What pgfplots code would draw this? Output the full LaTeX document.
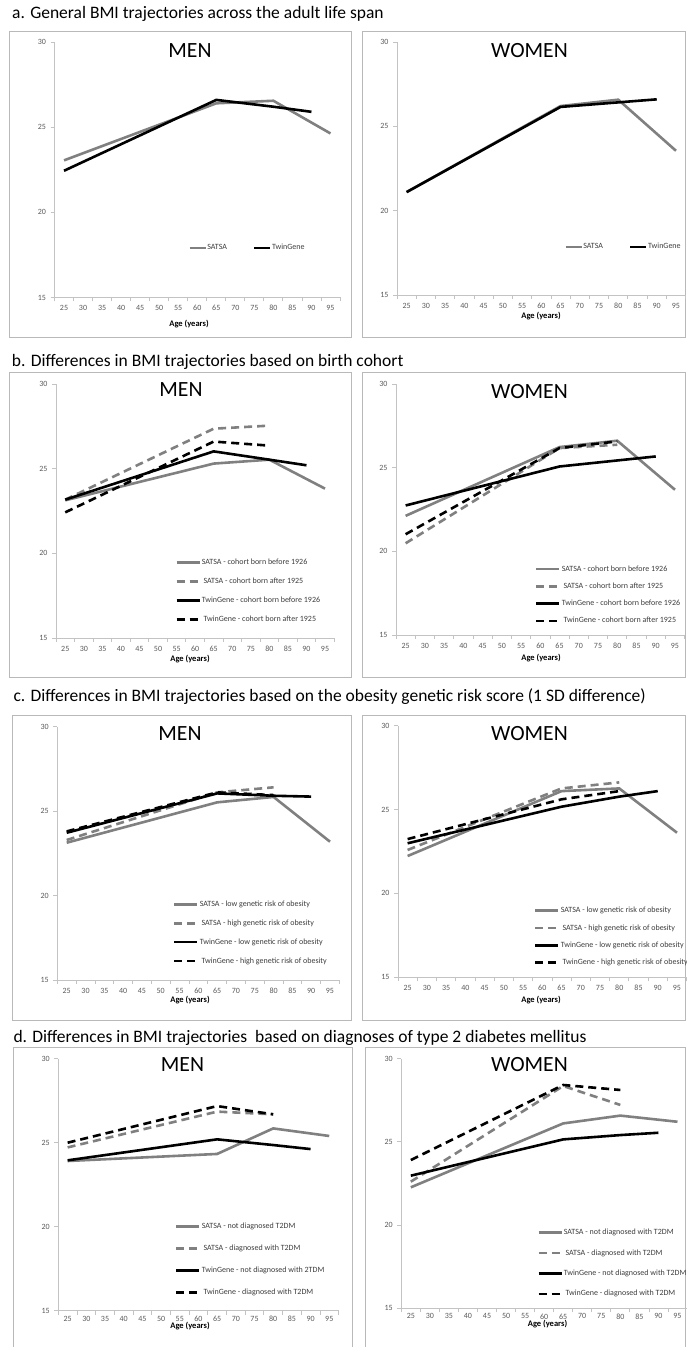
\documentclass[border=0pt]{standalone}
\usepackage{fontspec}
\setmainfont{Carlito}
\usepackage{pgfplots}
\pgfplotsset{compat=1.18}
\definecolor{sgray}{RGB}{128,128,128}
\definecolor{framegray}{RGB}{185,185,185}
\definecolor{axgray}{RGB}{195,195,195}
\definecolor{tickgray}{RGB}{90,90,90}
\definecolor{leggray}{RGB}{60,60,60}

\pgfplotsset{
  bmi/.style={scale only axis, anchor=south west,
    xmin=22.5, xmax=97.5, ymin=15, ymax=30,
    axis lines*=left, axis line style={draw=axgray, line width=0.8pt, -},
    xtick={25,30,...,95}, ytick={15,20,25,30},
    minor xtick={22.5,27.5,...,97.5}, minor ytick={15,20,25,30},
    tick align=outside, major tick length=0pt, minor tick length=4pt,
    tick style={draw=axgray, line width=0.8pt},
    ticklabel style={font=\fontsize{8}{9}\selectfont, text=tickgray},
    /pgf/number format/assume math mode=true,
    yticklabel style={xshift=-5pt},
    legend cell align=left},
  highrow/.style={xticklabel style={yshift=-4.5pt}},
  lowrow/.style={xticklabel style={yshift=-1.8pt}},
  sa/.style={sgray, line width=2.6pt},
  sad/.style={sgray, line width=2.6pt, dash pattern=on 8pt off 5pt},
  tg/.style={black, line width=2.6pt},
  tgd/.style={black, line width=2.6pt, dash pattern=on 8pt off 5pt},
  leg4/.style n args={3}{legend style={at={(#1,#2)}, anchor=west, draw=none, fill=none, inner sep=0pt,
      font=\fontsize{8}{9}\selectfont,
      nodes={inner sep=0pt, text height=6pt, text depth=2pt, text=leggray},
      row sep=#3, /tikz/every odd column/.append style={column sep=1pt}},
    legend image code/.code={\draw[##1] (0pt,0pt) -- (23pt,0pt);}},
  leg2/.style n args={2}{legend columns=2, legend style={at={(#1,#2)}, anchor=west, draw=none, fill=none, inner sep=0pt,
      font=\fontsize{8}{9}\selectfont,
      nodes={inner sep=0pt, text height=6pt, text depth=2pt, text=leggray},
      /tikz/every odd column/.append style={column sep=0.5pt},
      /tikz/every even column/.append style={column sep=26pt}},
    legend image code/.code={\draw[##1] (0pt,0pt) -- (16pt,0pt);}},
}
\newcommand{\ttl}{\fontsize{17.5}{20}\selectfont}
\newcommand{\sx}{\fontsize{21.7}{24}\selectfont}
\newcommand{\agel}{\fontsize{8.5}{10}\selectfont\bfseries}

\begin{document}
\begin{tikzpicture}
\useasboundingbox (0pt,0pt) rectangle (687pt,1347pt);
% frames
\begin{scope}[draw=framegray, line width=1pt]
\draw (9pt,1009pt) rectangle (351pt,1315pt);
\draw (362pt,1009pt) rectangle (685.5pt,1315pt);
\draw (9pt,669pt) rectangle (351pt,974pt);
\draw (362pt,669pt) rectangle (685.5pt,974pt);
\draw (12.7pt,326.3pt) rectangle (351pt,631pt);
\draw (362.7pt,326.3pt) rectangle (685.5pt,631pt);
\draw (13.3pt,-5pt) -- (13.3pt,299pt) -- (352pt,299pt) -- (352pt,-5pt);
\draw (365.3pt,-5pt) -- (365.3pt,299pt) -- (685.5pt,299pt) -- (685.5pt,-5pt);
\end{scope}
% section titles
\node[anchor=base west, inner sep=0pt] at (12pt,1328pt) {\ttl a. General BMI trajectories across the adult life span};
\node[anchor=base west, inner sep=0pt] at (11.7pt,980pt) {\ttl b. Differences in BMI trajectories based on birth cohort};
\node[anchor=base west, inner sep=0pt] at (13.3pt,645pt) {\ttl c. Differences in BMI trajectories based on the obesity genetic risk score (1 SD difference)};
\node[anchor=base west, inner sep=0pt] at (13.3pt,304pt) {\ttl d. Differences in BMI trajectories\ \ based on diagnoses of type 2 diabetes mellitus};

% ---------- a ----------
\begin{axis}[bmi, highrow, at={(54.5pt,1049.5pt)}, width=285.5pt, height=255.5pt, leg2={0.4676}{0.1937}]
\addplot[sa] coordinates {(25,23.05) (65,26.4) (80,26.55) (95,24.63)};
\addlegendentry{SATSA}
\addplot[tg] coordinates {(25,22.44) (65,26.6) (80,26.2) (90,25.9)};
\addlegendentry{TwinGene}
\end{axis}
\begin{axis}[bmi, highrow, at={(397pt,1052pt)}, width=288.6pt, height=253pt, leg2={0.5787}{0.1897}]
\addplot[sa] coordinates {(25,21.1) (65,26.2) (80,26.58) (95,23.55)};
\addlegendentry{SATSA}
\addplot[tg] coordinates {(25,21.1) (65,26.15) (80,26.42) (90,26.6)};
\addlegendentry{TwinGene}
\end{axis}

% ---------- b ----------
\begin{axis}[bmi, highrow, at={(56pt,709pt)}, width=278.3pt, height=254pt, leg4={0.4276}{0.1858}{11pt}]
\addplot[sa] coordinates {(25,23.13) (65,25.3) (80,25.53) (95,23.82)};
\addlegendentry{SATSA - cohort born before 1926}
\addplot[sad] coordinates {(25,23.17) (65,27.36) (80,27.54)};
\addlegendentry{\ SATSA - cohort born after 1925}
\addplot[tg] coordinates {(25,23.17) (65,26.02) (80,25.53) (90,25.2)};
\addlegendentry{TwinGene - cohort born before 1926}
\addplot[tgd] coordinates {(25,22.42) (65,26.6) (80,26.36)};
\addlegendentry{\ TwinGene - cohort born after 1925}
\end{axis}
\begin{axis}[bmi, highrow, at={(396pt,712pt)}, width=288.6pt, height=251pt, leg4={0.4816}{0.1594}{9.3pt}]
\addplot[sa] coordinates {(25,22.12) (65,26.23) (80,26.61) (95,23.68)};
\addlegendentry{SATSA - cohort born before 1926}
\addplot[sad] coordinates {(25,20.48) (65,26.17) (80,26.37)};
\addlegendentry{\ SATSA - cohort born after 1925}
\addplot[tg] coordinates {(25,22.74) (65,25.07) (80,25.43) (90,25.67)};
\addlegendentry{TwinGene - cohort born before 1926}
\addplot[tgd] coordinates {(25,21.02) (65,26.17) (80,26.57)};
\addlegendentry{\ TwinGene - cohort born after 1925}
\end{axis}

% ---------- c ----------
\begin{axis}[bmi, highrow, at={(57.3pt,367pt)}, width=282.1pt, height=253.3pt, leg4={0.4101}{0.1867}{10.9pt}]
\addplot[sa] coordinates {(25,23.13) (65,25.52) (80,25.84) (95,23.19)};
\addlegendentry{SATSA - low genetic risk of obesity}
\addplot[sad] coordinates {(25,23.29) (65,26.11) (80,26.41)};
\addlegendentry{\ SATSA - high genetic risk of obesity}
\addplot[tg] coordinates {(25,23.72) (65,26.05) (80,25.91) (90,25.86)};
\addlegendentry{TwinGene - low genetic risk of obesity}
\addplot[tgd] coordinates {(25,23.8) (65,26.11) (80,25.95)};
\addlegendentry{\ TwinGene - high genetic risk of obesity}
\end{axis}
\begin{axis}[bmi, highrow, at={(398pt,369.7pt)}, width=288.6pt, height=251.6pt, leg4={0.4712}{0.1614}{9.3pt}]
\addplot[sa] coordinates {(25,22.23) (65,26.1) (80,26.26) (95,23.62)};
\addlegendentry{SATSA - low genetic risk of obesity}
\addplot[sad] coordinates {(25,22.59) (65,26.26) (80,26.62)};
\addlegendentry{\ SATSA - high genetic risk of obesity}
\addplot[tg] coordinates {(25,22.99) (65,25.17) (80,25.77) (90,26.1)};
\addlegendentry{TwinGene - low genetic risk of obesity}
\addplot[tgd] coordinates {(25,23.24) (65,25.61) (80,26.1)};
\addlegendentry{\ TwinGene - high genetic risk of obesity}
\end{axis}

% ---------- d ----------
\begin{axis}[bmi, lowrow, at={(58.3pt,36.3pt)}, width=280.3pt, height=252pt, leg4={0.4163}{0.2032}{13.9pt}]
\addplot[sa] coordinates {(25,23.91) (65,24.33) (80,25.85) (95,25.4)};
\addlegendentry{SATSA - not diagnosed T2DM}
\addplot[sad] coordinates {(25,24.72) (65,26.85) (80,26.69)};
\addlegendentry{\ SATSA - diagnosed with T2DM}
\addplot[tg] coordinates {(25,23.95) (65,25.2) (80,24.86) (90,24.62)};
\addlegendentry{TwinGene - not diagnosed with 2TDM}
\addplot[tgd] coordinates {(25,25.0) (65,27.18) (80,26.69)};
\addlegendentry{\ TwinGene - diagnosed with T2DM}
\end{axis}
\begin{axis}[bmi, lowrow, at={(401.3pt,38.7pt)}, width=285.7pt, height=249.6pt, leg4={0.475}{0.1803}{12.4pt}]
\addplot[sa] coordinates {(25,22.27) (65,26.11) (80,26.58) (95,26.21)};
\addlegendentry{SATSA - not diagnosed with T2DM}
\addplot[sad] coordinates {(25,22.61) (65,28.36) (80,27.22)};
\addlegendentry{\ SATSA - diagnosed with T2DM}
\addplot[tg] coordinates {(25,22.97) (65,25.15) (80,25.41) (90,25.55)};
\addlegendentry{TwinGene - not diagnosed with T2DM}
\addplot[tgd] coordinates {(25,23.91) (65,28.42) (80,28.12)};
\addlegendentry{\ TwinGene - diagnosed with T2DM}
\end{axis}

% panel labels MEN / WOMEN
\node[anchor=base, inner sep=0pt] at (190pt,1289pt) {\sx MEN};
\node[anchor=base, inner sep=0pt] at (529.5pt,1289pt) {\sx WOMEN};
\node[anchor=base, inner sep=0pt] at (181pt,950.3pt) {\sx MEN};
\node[anchor=base, inner sep=0pt] at (529.5pt,948.7pt) {\sx WOMEN};
\node[anchor=base, inner sep=0pt] at (180pt,606pt) {\sx MEN};
\node[anchor=base, inner sep=0pt] at (529.5pt,606pt) {\sx WOMEN};
\node[anchor=base, inner sep=0pt] at (182.5pt,275pt) {\sx MEN};
\node[anchor=base, inner sep=0pt] at (529.5pt,275pt) {\sx WOMEN};
% x axis labels
\node[inner sep=0pt] at (189pt,1023pt) {\agel Age (years)};
\node[inner sep=0pt] at (541pt,1031pt) {\agel Age (years)};
\node[inner sep=0pt] at (190pt,688pt) {\agel Age (years)};
\node[inner sep=0pt] at (541pt,689pt) {\agel Age (years)};
\node[inner sep=0pt] at (190pt,347pt) {\agel Age (years)};
\node[inner sep=0pt] at (541pt,347pt) {\agel Age (years)};
\node[inner sep=0pt] at (190pt,20.5pt) {\agel Age (years)};
\node[inner sep=0pt] at (547.5pt,22.5pt) {\agel Age (years)};
\end{tikzpicture}
\end{document}
